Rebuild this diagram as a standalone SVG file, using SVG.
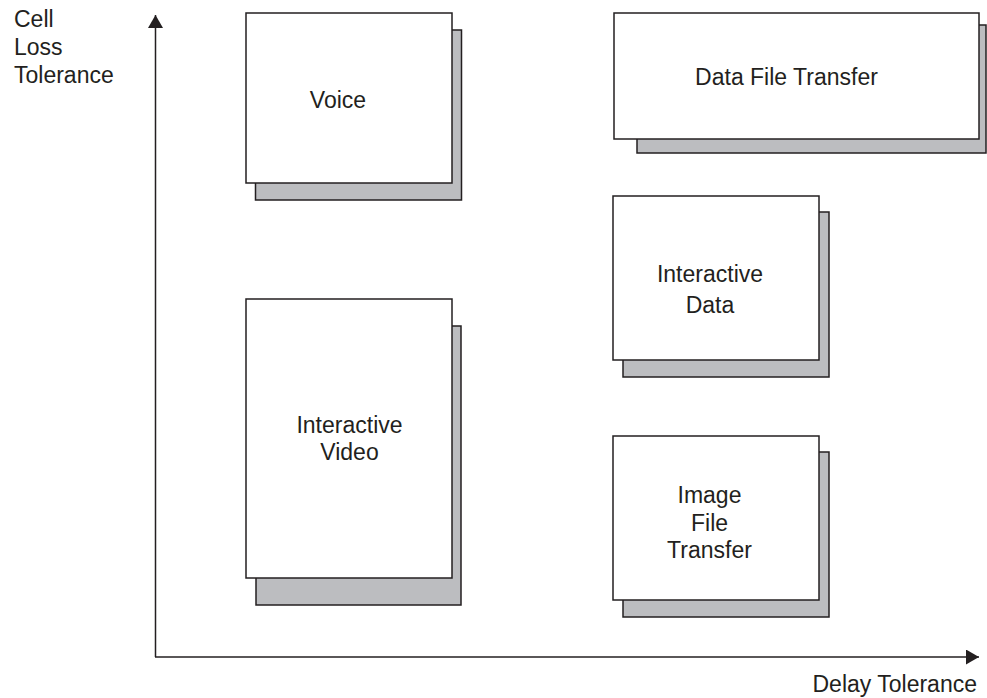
<svg xmlns="http://www.w3.org/2000/svg" width="987" height="698" viewBox="0 0 987 698">
  <style>
    .shadow { fill: #bcbdc0; stroke: #231f20; stroke-width: 1.5; }
    .box { fill: #ffffff; stroke: #231f20; stroke-width: 1.5; }
    .axis { fill: none; stroke: #231f20; stroke-width: 1.5; }
    text { font-family: "Liberation Sans", Arial, Helvetica, sans-serif; font-size: 23px; fill: #231f20; }
    .c { text-anchor: middle; }
  </style>
  <defs>
    <marker id="arrow" markerUnits="userSpaceOnUse" markerWidth="14" markerHeight="16" refX="13" refY="7.5" orient="auto">
      <path d="M0,0 L13,7.5 L0,15 z" fill="#231f20"/>
    </marker>
  </defs>

  <!-- axes -->
  <g id="axes">
    <line class="axis" x1="155.5" y1="657" x2="155.5" y2="15" marker-end="url(#arrow)"/>
    <line class="axis" x1="155" y1="657" x2="979" y2="657" marker-end="url(#arrow)"/>
    <text x="14" y="27">Cell</text>
    <text x="14" y="55">Loss</text>
    <text x="14" y="83">Tolerance</text>
    <text x="977" y="692" text-anchor="end">Delay Tolerance</text>
  </g>

  <g id="voice">
    <rect class="shadow" x="255.5" y="30" width="206" height="170"/>
    <rect class="box" x="246" y="13" width="206" height="170"/>
    <text class="c" x="338" y="108">Voice</text>
  </g>

  <g id="data-file-transfer">
    <rect class="shadow" x="637" y="25" width="349" height="128"/>
    <rect class="box" x="614" y="13" width="365" height="126"/>
    <text class="c" x="786.5" y="85">Data File Transfer</text>
  </g>

  <g id="interactive-data">
    <rect class="shadow" x="623" y="212" width="206" height="165"/>
    <rect class="box" x="613" y="196" width="206" height="164"/>
    <text class="c" x="710" y="281.5">Interactive</text>
    <text class="c" x="710" y="313">Data</text>
  </g>

  <g id="interactive-video">
    <rect class="shadow" x="256" y="326" width="205" height="279"/>
    <rect class="box" x="246" y="299" width="206" height="279"/>
    <text class="c" x="349.5" y="433">Interactive</text>
    <text class="c" x="349.5" y="460">Video</text>
  </g>

  <g id="image-file-transfer">
    <rect class="shadow" x="623" y="452" width="206" height="165"/>
    <rect class="box" x="613" y="436" width="206" height="164"/>
    <text class="c" x="709.5" y="503">Image</text>
    <text class="c" x="709.5" y="530.5">File</text>
    <text class="c" x="709.5" y="558">Transfer</text>
  </g>
</svg>
